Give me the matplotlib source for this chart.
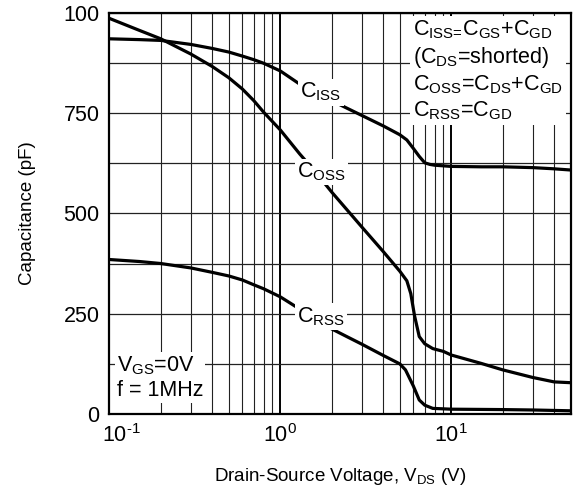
import matplotlib
matplotlib.use("Agg")
import matplotlib.pyplot as plt
import matplotlib.transforms as mtransforms
from matplotlib.ticker import FixedLocator, MultipleLocator, NullFormatter

plt.rcParams['font.family'] = ['Liberation Sans', 'DejaVu Sans']
plt.rcParams['mathtext.fontset'] = 'custom'
plt.rcParams['mathtext.rm'] = 'Liberation Sans'
plt.rcParams['mathtext.it'] = 'Liberation Sans:italic'
plt.rcParams['mathtext.bf'] = 'Liberation Sans:bold'

# capacitance vs drain-source voltage (pF)
v_iss = [0.1, 0.15, 0.2, 0.3, 0.4, 0.5, 0.6, 0.7, 0.8, 1.0, 1.3, 1.7, 2.3, 3, 4,
         5, 5.5, 6, 6.5, 7, 7.5, 8, 10, 15, 20, 30, 40, 50]
c_iss = [935, 933, 931, 921, 911, 902, 892, 883, 874, 855, 822, 796, 768, 744, 718,
         696, 683, 662, 642, 626, 622, 620, 617, 616, 616, 614, 611, 608]

v_oss = [0.1, 0.15, 0.2, 0.3, 0.4, 0.5, 0.6, 0.7, 0.8, 1.0, 1.3, 1.6, 2.0, 3.0, 4.0,
         5.0, 5.5, 5.8, 6.1, 6.5, 7.0, 7.8, 9, 10, 15, 20, 30, 40, 50]
c_oss = [986, 956, 935, 897, 866, 838, 810, 781, 752, 708, 648, 604, 553, 466, 405,
         356, 332, 300, 245, 193, 175, 163, 156, 147, 126, 110, 91, 80, 78]

v_rss = [0.1, 0.15, 0.2, 0.3, 0.4, 0.5, 0.6, 0.7, 0.8, 1.0, 1.25, 1.6, 2.0, 2.5, 3,
         4, 5, 5.4, 6.0, 6.5, 7, 7.8, 10, 20, 30, 50]
c_rss = [385, 380, 375, 364, 353, 344, 334, 322, 312, 292, 266, 240, 212, 191, 174,
         146, 125, 110, 70, 35, 22, 14, 12, 11, 10, 8]

x_ticks = [0.1, 1, 10]
x_tick_labels = [r'$\mathregular{10^{\text{-}1}}$', r'$\mathregular{10^{0}}$', r'$\mathregular{10^{1}}$']
y_ticks = [0, 250, 500, 750, 1000]
y_tick_labels = ['0', '250', '500', '750', '100']

fig = plt.figure(figsize=(5.74, 4.97), dpi=100)
ax = fig.add_axes([0.1904, 0.167, 0.8039, 0.8074])

ax.set_xscale('log')
ax.set_xlim(0.1, 50)
ax.set_ylim(0, 1000)

# grid: decades + minor log lines, every 125 pF horizontally
ax.xaxis.set_major_locator(FixedLocator(x_ticks))
ax.set_xticklabels(x_tick_labels)
ax.xaxis.set_minor_locator(FixedLocator([m * d for d in (0.1, 1, 10) for m in range(2, 10)]))
ax.xaxis.set_minor_formatter(NullFormatter())
ax.set_yticks(y_ticks)
ax.set_yticklabels(y_tick_labels)
ax.yaxis.set_minor_locator(MultipleLocator(125))
ax.grid(True, which='major', axis='x', color='black', lw=1.4)
ax.grid(True, which='minor', axis='x', color='#222222', lw=0.8)
ax.grid(True, which='both', axis='y', color='#222222', lw=0.9)
ax.set_axisbelow(True)
ax.tick_params(which='both', length=0, labelsize=15.5)
ax.tick_params(axis='x', pad=7)
ax.tick_params(axis='y', pad=7)

# shift the first x label right so it sits inside the figure
lbl = ax.get_xticklabels()[0]
lbl.set_transform(lbl.get_transform() + mtransforms.ScaledTranslation(12 / 100, 0, fig.dpi_scale_trans))

for sp in ax.spines.values():
    sp.set_linewidth(1.6)
    sp.set_zorder(5)

ax.plot(v_iss, c_iss, color='black', lw=2.3, zorder=3)
ax.plot(v_oss, c_oss, color='black', lw=2.3, zorder=3)
ax.plot(v_rss, c_rss, color='black', lw=2.3, zorder=3)

box = dict(facecolor='white', edgecolor='none', pad=1.5)
ax.text(1.73, 802, r'C$_\mathrm{ISS}$', fontsize=15.5, ha='center', va='center', bbox=box, zorder=4)
ax.text(1.75, 603, r'C$_\mathrm{OSS}$', fontsize=15.5, ha='center', va='center', bbox=box, zorder=4)
ax.text(1.73, 242, r'C$_\mathrm{RSS}$', fontsize=15.5, ha='center', va='center', bbox=box, zorder=4)

ax.text(0.658, 0.985,
        'C$_\\mathrm{ISS\\text{=}}$C$_\\mathrm{GS}$+C$_\\mathrm{GD}$\n'
        '(C$_\\mathrm{DS}$=shorted)\n'
        'C$_\\mathrm{OSS}$=C$_\\mathrm{DS}$+C$_\\mathrm{GD}$\n'
        'C$_\\mathrm{RSS}$=C$_\\mathrm{GD}$',
        transform=ax.transAxes, fontsize=15.5, ha='left', va='top', linespacing=1.2,
        bbox=dict(facecolor='white', edgecolor='none', pad=2), zorder=4)

ax.text(0.016, 0.09, 'V$_\\mathrm{GS}$=0V\nf = 1MHz', transform=ax.transAxes,
        fontsize=15.5, ha='left', va='center', linespacing=1.2,
        bbox=dict(facecolor='white', edgecolor='none', pad=1.5), zorder=4)

ax.set_xlabel('Drain-Source Voltage, V$_\\mathrm{DS}$ (V)', fontsize=13.5, labelpad=14)
ax.set_ylabel('Capacitance (pF)', fontsize=13.5, labelpad=20)

fig.savefig('out.png', dpi=100)
